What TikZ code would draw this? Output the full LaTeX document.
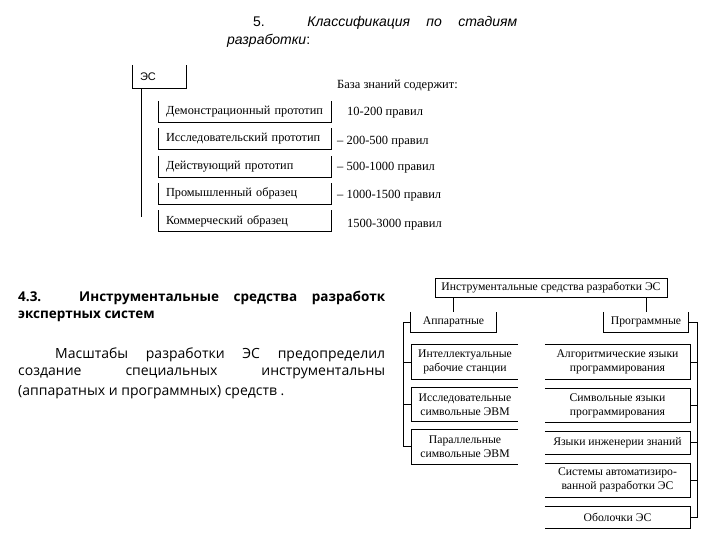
\documentclass[tikz,border=0pt]{standalone}
\usepackage{fontspec}
\setmainfont{Liberation Serif}
\setsansfont{Liberation Sans}
\newfontfamily\parafont{Open Sans}
\usetikzlibrary{positioning}

\begin{document}
\begin{tikzpicture}[
        x=1pt, y=-1pt,
        node distance=6pt,
        every node/.style={inner sep=0pt},
        rule/.style={line width=0.9pt},
        esbox/.style={
            minimum width=53pt,
            minimum height=23pt,
            inner xsep=7pt,
            text width=39pt,
            align=left,
            font=\sffamily\fontsize{11}{13}\selectfont
        },
        stagebox/.style={
            minimum width=172pt,
            minimum height=21pt,
            inner xsep=7pt,
            text width=158pt,
            align=left,
            font=\fontsize{12.3}{14}\selectfont
        },
        kbtext/.style={anchor=west, font=\fontsize{12.5}{14}\selectfont},
        toolbox/.style={
            minimum height=20pt,
            align=center,
            font=\fontsize{11.7}{14}\selectfont
        },
        headline/.style={anchor=west, font=\parafont\bfseries\fontsize{13.5}{16}\selectfont},
        paraline/.style={anchor=west, font=\parafont\fontsize{14}{16}\selectfont}
    ]
        \useasboundingbox (0,0) rectangle (720,540);
        \fill[white] (0,0) rectangle (720,540);

        % title of the upper part
        \node[anchor=west, font=\sffamily\fontsize{14}{17}\selectfont] (title1) at (253,23)
            {\makebox[264pt][s]{5. \textit{Классификация} \textit{по} \textit{стадиям}}};
        \node[anchor=west, font=\sffamily\fontsize{14}{17}\selectfont] (title2) at (227,41)
            {\textit{разработки}:};

        % stages of development
        \node[esbox] (es) at (159.5,76.5) {ЭС};
        \node[stagebox] (s1) at (245,111.5) {Демонстрационный прототип};
        \node[stagebox, below=of s1] (s2) {Исследовательский прототип};
        \node[stagebox, below=of s2] (s3) {Действующий прототип};
        \node[stagebox, below=of s3] (s4) {Промышленный образец};
        \node[stagebox, below=of s4] (s5) {Коммерческий образец};
        \coordinate (esend) at (141,217);

        \node[kbtext] (kb) at (337,86) {База знаний содержит:};
        \node[kbtext] (k1) at (347,113) {10-200 правил};
        \node[kbtext] (k2) at (337,142) {– 200-500 правил};
        \node[kbtext] (k3) at (337,168) {– 500-1000 правил};
        \node[kbtext] (k4) at (337,196) {– 1000-1500 правил};
        \node[kbtext] (k5) at (347,225) {1500-3000 правил};

        \foreach \n in {es,s1,s2,s3,s4,s5}
            \draw[rule] (\n.north west) |- (\n.south east) -- (\n.north east);
        \draw[rule] (esend |- es.south) -- (esend);

        % section text
        \node[headline] (h1) at (18,298)
            {\makebox[367pt][s]{4.3. Инструментальные средства разработк}};
        \node[headline] (h2) at (18,316) {экспертных систем};
        \node[paraline] (t1) at (55,355)
            {\makebox[330pt][s]{Масштабы разработки ЭС предопределил}};
        \node[paraline] (t2) at (18,373)
            {\makebox[367pt][s]{создание специальных инструментальны}};
        \node[paraline] (t3) at (18,392) {(аппаратных и программных) средств .};

        % tools tree
        \node[toolbox, draw, rule, minimum width=232pt, minimum height=19pt] (tools) at (551,287.5)
            {Инструментальные средства разработки ЭС};
        \node[toolbox, minimum width=85pt] (hw) at (453.5,322) {Аппаратные};
        \node[toolbox, minimum width=84pt] (sw) at (646,322) {Программные};

        \node[toolbox, minimum width=106pt, minimum height=34pt] (a1) at (465,362)
            {Интеллектуальные\\рабочие станции};
        \node[toolbox, minimum width=106pt, minimum height=34pt, below=8pt of a1] (a2)
            {Исследовательные\\символьные ЭВМ};
        \node[toolbox, minimum width=106pt, minimum height=34pt, below=8pt of a2] (a3)
            {Параллельные\\символьные ЭВМ};

        \node[toolbox, minimum width=145pt, minimum height=34pt] (p1) at (617.5,362)
            {Алгоритмические языки\\программирования};
        \node[toolbox, minimum width=145pt, minimum height=34pt, below=9pt of p1] (p2)
            {Символьные языки\\программирования};
        \node[toolbox, minimum width=145pt, minimum height=22pt, below=9pt of p2] (p3)
            {Языки инженерии знаний};
        \node[toolbox, minimum width=145pt, minimum height=34pt, below=9pt of p3] (p4)
            {Системы автоматизиро-\\ванной разработки ЭС};
        \node[toolbox, minimum width=145pt, minimum height=22pt, below=9pt of p4] (p5)
            {Оболочки ЭС};

        \coordinate (lbus) at (403,0);
        \coordinate (rbus) at (697,0);

        \foreach \n in {hw,sw}
            \draw[rule] (\n.north west) |- (\n.south east) -- (\n.north east);
        \foreach \n in {a1,a2,a3}
            \draw[rule] (\n.north east) -| (\n.south west) -- (\n.south east);
        \foreach \n in {p1,p2,p3,p4,p5}
            \draw[rule] (\n.north west) -| (\n.south east) -- (\n.south west);

        \draw[rule] (tools.south -| hw.north) -- (hw.north);
        \draw[rule] (tools.south -| sw.north) -- (sw.north);
        \draw[rule] (hw.west) -| (lbus |- a3.west) -- (a3.west);
        \foreach \n in {a1,a2}
            \draw[rule] (\n.west) -- (\n.west -| lbus);
        \draw[rule] (sw.east) -| (rbus |- p5.east) -- (p5.east);
        \foreach \n in {p1,p2,p3,p4}
            \draw[rule] (\n.east) -- (\n.east -| rbus);
    \end{tikzpicture}
\end{document}
